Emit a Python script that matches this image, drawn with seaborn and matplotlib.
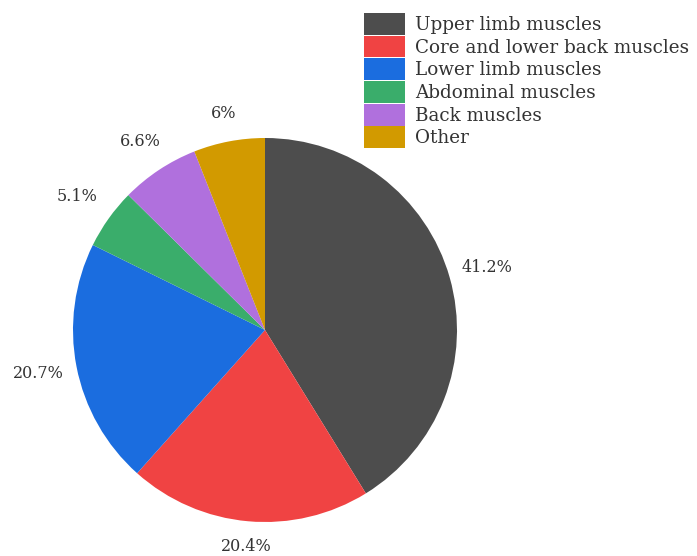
import matplotlib
matplotlib.use("Agg")
import numpy as np
import matplotlib.pyplot as plt
import seaborn as sns

# Share of training volume by muscle group
categories = ["Upper limb muscles", "Core and lower back muscles", "Lower limb muscles",
              "Abdominal muscles", "Back muscles", "Other"]
shares = [41.2, 20.4, 20.7, 5.1, 6.6, 6.0]
share_labels = ["41.2%", "20.4%", "20.7%", "5.1%", "6.6%", "6%"]
colors = ["#4d4d4d", "#f04343", "#1b6ddf", "#3aad6b", "#b070dd", "#d29a00"]
# radial offset of each percentage label, in pie radii
label_dist = [1.2, 1.13, 1.2, 1.2, 1.18, 1.15]

sns.set_theme(style="white")
plt.rcParams["font.family"] = ["DejaVu Serif"]

W, H = 697, 556
fig = plt.figure(figsize=(W / 100, H / 100), dpi=100)

# pie centre (265, 330) px, radius 192 px; axes span +-1.25 radii
cx, cy, r = 265, 330, 192
side = 2.5 * r
ax = fig.add_axes([(cx - side / 2) / W, (H - cy - side / 2) / H, side / W, side / H])

palette = sns.color_palette(colors)
label_iter = iter(share_labels)
wedges, texts, autotexts = ax.pie(
    shares,
    colors=palette,
    startangle=90,
    counterclock=False,
    autopct=lambda p: next(label_iter),
    pctdistance=1.18,
    wedgeprops=dict(linewidth=0),
    textprops=dict(color="#333333", fontsize=11.5),
)
ax.set_xlim(-1.25, 1.25)
ax.set_ylim(-1.25, 1.25)
ax.set_aspect("equal")

# place each label along its wedge's mid-angle
for w, t, d in zip(wedges, autotexts, label_dist):
    mid = np.deg2rad((w.theta1 + w.theta2) / 2)
    t.set_position((d * np.cos(mid), d * np.sin(mid)))
    t.set_clip_on(False)

leg = fig.legend(
    wedges, categories,
    loc="upper left",
    bbox_to_anchor=(364 / W, 1 - 13 / H),
    frameon=False,
    fontsize=13.2,
    handlelength=2.24,
    handleheight=1.45,
    handletextpad=0.55,
    labelspacing=0.05,
    borderpad=0,
    borderaxespad=0,
)
for t in leg.get_texts():
    t.set_color("#333333")

fig.savefig("out.png", dpi=100)
